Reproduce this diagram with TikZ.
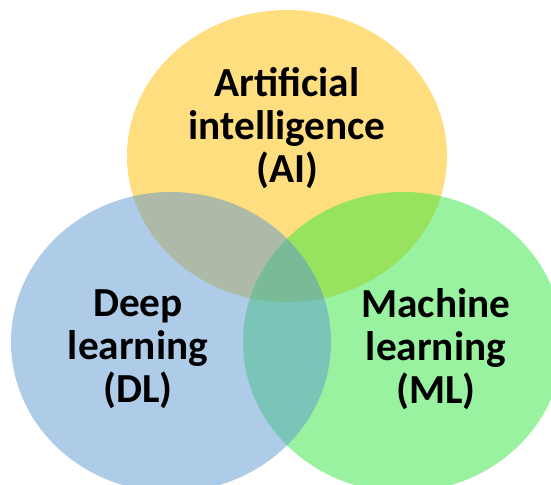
\documentclass[tikz,border=0pt]{standalone}
\usepackage{fontspec}
\setmainfont{Carlito}
\usepackage{xcolor}
\definecolor{ai}{RGB}{255, 190, 0}
\definecolor{ml}{RGB}{49, 229, 65}
\definecolor{dl}{RGB}{93, 151, 209}
\tikzset{
  set/.style={fill opacity=0.5},
  lbl/.style={align=center, text=black, font=\fontsize{23.5}{24.5}\selectfont\bfseries}
}

\begin{document}
\begin{tikzpicture}[x=0.02cm, y=-0.02cm]
      \useasboundingbox (0, 0) rectangle (551, 484);
      \clip (0, 0) rectangle (551, 484);
      \fill[color=ai, set] (287, 156) ellipse (160 and 146);
      \fill[color=ml, set] (403, 342) ellipse (160 and 150);
      \fill[color=dl, set] (171, 342) ellipse (160 and 150);
      \node[lbl](a) at (287, 128) {Artificial\\intelligence\\(AI)};
      \node[lbl](d) at (138, 349) {Deep\\learning\\(DL)};
      \node[lbl](m) at (436, 349) {Machine\\learning\\(ML)};
    \end{tikzpicture}
\end{document}
